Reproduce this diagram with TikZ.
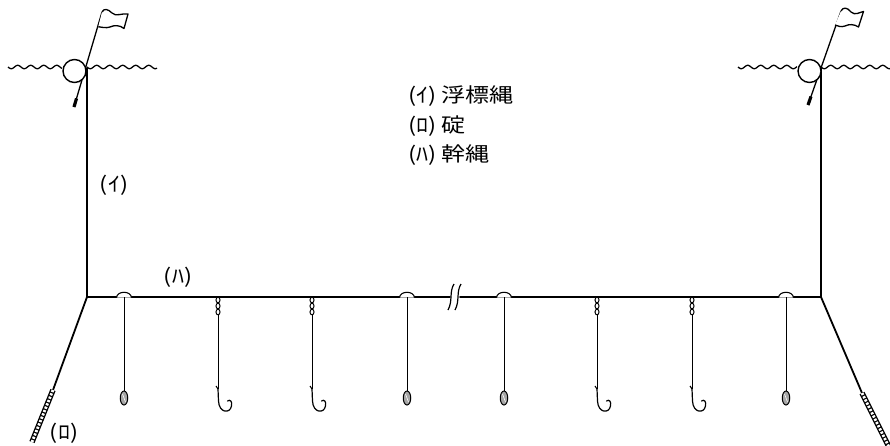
\documentclass[tikz,border=0pt]{standalone}
\usepackage{fontspec}
\newfontfamily\jpfont[FakeStretch=1.2]{Noto Sans CJK JP}
\usetikzlibrary{calc,shapes.geometric}
\begin{document}
\begin{tikzpicture}[x=1pt,y=-1pt,
  rope/.style={line width=1.8pt,line cap=round},
  wave/.style={line width=1.3pt},
  thin rope/.style={line width=1pt},
  floatball/.style={circle,draw,line width=1.4pt,fill=white,minimum size=23pt,inner sep=0pt},
  flag/.style={draw,line width=1.3pt,fill=white,line join=round},
  pole/.style={line width=1.3pt},
  poletip/.style={line width=3.2pt},
  chainouter/.style={line width=5.5pt},
  chaininner/.style={line width=2.8pt,white,dash pattern=on 2.2pt off 1.4pt},
  label/.style={font=\jpfont\fontsize{20}{23}\selectfont,inner sep=0pt},
  sinker/.style={draw,line width=1pt,fill=black!35},
]
\useasboundingbox (0,0) rectangle (890,445);

% ---- sea surface ----
\draw[wave] plot[domain=8:62,samples=70,smooth] (\x,{67+1.7*sin((\x-8)/13*360)});
\draw[wave] plot[domain=87:157,samples=90,smooth] (\x,{67+1.7*sin((\x-87)/13*360)});
\draw[wave] plot[domain=738:797,samples=70,smooth] (\x,{67+1.7*sin((\x-738)/13*360)});
\draw[wave] plot[domain=821:890,samples=90,smooth] (\x,{67+1.7*sin((\x-821)/13*360)});

% ---- key points of the gear ----
\coordinate (TL) at (87,68);
\coordinate (BL) at (87,297);
\coordinate (TR) at (821,68);
\coordinate (BR) at (821,297);
\coordinate (GapL) at (450,297);
\coordinate (GapR) at (460,297);
\coordinate (ChainLa) at (53,390);
\coordinate (ChainLb) at (32,442);
\coordinate (ChainRa) at (862,393);
\coordinate (ChainRb) at (889,447);

% buoy lines (i)
\draw[rope] (TL) -- (BL);
\draw[rope] (TR) -- (BR);
% main line (ha) with break
\draw[rope] (BL) -- (GapL);
\draw[rope] (GapR) -- (BR);
\draw[line width=1.2pt] (454,284) .. controls (449,292) and (453,301) .. (448,310);
\draw[line width=1.2pt] (461,284) .. controls (456,292) and (460,301) .. (455,310);
% anchor ropes and anchors (ro)
\draw[rope] (BL) -- (ChainLa);
\draw[rope] (BR) -- (ChainRa);
\draw[chainouter] (ChainLa) -- (ChainLb);
\draw[chaininner] (ChainLa) -- (ChainLb);
\draw[chainouter] (ChainRa) -- (ChainRb);
\draw[chaininner] (ChainRa) -- (ChainRb);

% ---- buoys with flag poles ----
\coordinate (PLb) at (74,107);
\coordinate (PLt) at (102,12);
\coordinate (PRb) at (808,105);
\coordinate (PRt) at (841,11);
\draw[pole] (PLb) -- (PLt);
\draw[pole] (PRb) -- (PRt);
\draw[poletip] (PLb) -- ($(PLb)!0.09!(PLt)$);
\draw[poletip] (PRb) -- ($(PRb)!0.09!(PRt)$);
\node[floatball] (buoyL) at (74.5,71) {};
\node[floatball] (buoyR) at (809.5,71) {};
\draw[flag] (PLt) .. controls (104,8) and (108,9) .. (112,13)
  .. controls (116,17) and (122,13) .. (128,14) -- (124,28.5)
  .. controls (120,25) and (114,25) .. (110,27) .. controls (106,28.5) and (101,27) .. (98.3,26.7);
\draw[flag] (PRt) .. controls (843,7) and (847,7) .. (851,12)
  .. controls (855,16) and (860,12) .. (863.5,11.5) -- (858.5,27)
  .. controls (854,24) and (849,24) .. (845,26) .. controls (841,27.5) and (838,26) .. (835,25);

% ---- branch lines ----
% sinker branches with a float on the main line
\foreach \n/\xx in {a/124,b/407,c/504,d/786}{
  \draw[line width=1.1pt,fill=white] (\xx-7.5,297.6) .. controls (\xx-7,290.5) and (\xx+7,290.5) .. (\xx+7.5,297.6);
  \coordinate (top\n) at (\xx,297);
  \node[sinker,ellipse,minimum width=7.5pt,minimum height=14pt,inner sep=0pt] (sink\n) at (\xx,398) {};
  \draw[thin rope] (top\n) -- (sink\n.north);
  \draw[line width=0.6pt,white] (\xx-1.5,394) -- (\xx+1.5,402);
}
% hook branches with swivels
\foreach \n/\xx in {e/218,f/312,g/597,h/692}{
  \coordinate (swtop\n) at (\xx,297);
  \draw[line width=1pt,fill=white] (\xx,300) ellipse (2pt and 2.8pt);
  \draw[line width=1pt,fill=white] (\xx,306) ellipse (2pt and 2.8pt);
  \draw[line width=1pt,fill=white] (\xx,312) ellipse (2pt and 2.8pt);
  \coordinate (eye\n) at (\xx,389);
  \draw[thin rope] (\xx,314.8) -- (eye\n);
  \draw[line width=1.1pt] (\xx-2,386) -- (eye\n);
  \draw[line width=1.2pt,line cap=round] (eye\n) -- (\xx+0.5,401)
    .. controls (\xx+1,413) and (\xx+12,414) .. (\xx+13.5,406)
    .. controls (\xx+14.5,401.5) and (\xx+12,399) .. (\xx+9.5,401);
}

% ---- labels ----
\node[label,anchor=center] (lbI) at (114,185) {(ｲ)};
\node[label,anchor=center] (lbHa) at (178,277) {(ﾊ)};
\node[label,anchor=center] (lbRo) at (64,433) {(ﾛ)};

\node[label,anchor=west] (legI) at (408,96) {(ｲ) 浮標縄};
\node[label,anchor=west] (legRo) at (408,126) {(ﾛ) 碇};
\node[label,anchor=west] (legHa) at (408,155) {(ﾊ) 幹縄};
\end{tikzpicture}
\end{document}
